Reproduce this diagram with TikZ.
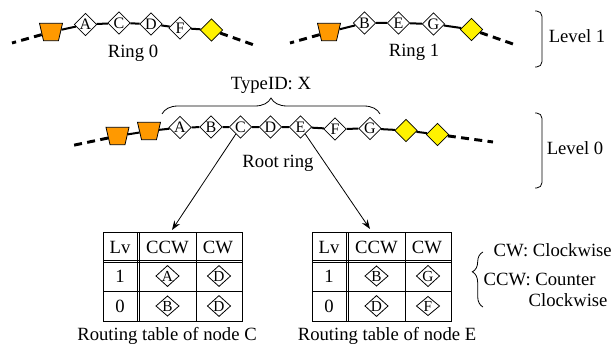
\documentclass[tikz,border=0pt]{standalone}
\usepackage{fontspec}
\setmainfont{Liberation Serif}
\usetikzlibrary{shapes.geometric,decorations.pathreplacing,arrows.meta}
\definecolor{hubOrange}{RGB}{255,153,0}

\begin{document}
\begin{tikzpicture}[x=0.75pt,y=-0.75pt,
  font=\fontsize{14}{16}\selectfont,
  peer/.style={draw,diamond,fill=white,inner sep=0pt,minimum size=17pt,
    line width=0.6pt,font=\fontsize{12}{12}\selectfont},
  gate/.style={peer,fill=yellow},
  hub/.style={draw,trapezium,trapezium left angle=75,trapezium right angle=75,
    shape border rotate=180,trapezium stretches=true,minimum width=17.25pt,
    minimum height=13pt,inner sep=1pt,fill=hubOrange,line width=0.6pt},
  link/.style={line width=1.5pt},
  ringend/.style={line width=2.2pt,dash pattern=on 6pt off 4pt},
  entry/.style={draw,diamond,inner sep=0pt,minimum width=17.5pt,minimum height=14.5pt,
    line width=0.6pt,font=\fontsize{11.5}{11.5}\selectfont},
  tabline/.style={line width=0.6pt},
  bracket/.style={line width=0.6pt,rounded corners=4pt},
  curly/.style={line width=0.6pt,decorate,decoration={brace,#1}}]
  \useasboundingbox (0,0) rectangle (613,353);

  % ring 0
  \node[hub] (h0) at (51,32) {};
  \foreach \n/\x/\y in {A/85.5/24.5, C/119/23, D/151/24, F/180/28}
    \node[peer] (r0\n) at (\x,\y) {\n};
  \node[gate] (g0) at (211.5,30) {};
  \coordinate (r0l) at (12,43);
  \coordinate (r0r) at (254,45);
  \draw[link] (h0) -- (r0A) -- (r0C) -- (r0D) -- (r0F) -- (g0);
  \draw[ringend] (h0) -- (r0l);
  \draw[ringend] (g0) -- (r0r);
  \node (ring0) at (133,53) {Ring 0};

  % ring 1
  \node[hub] (h1) at (329,32) {};
  \foreach \n/\x/\y in {B/364.5/23, E/398.5/23, G/433.5/24}
    \node[peer] (r1\n) at (\x,\y) {\n};
  \node[gate] (g1) at (471.5,29.5) {};
  \coordinate (r1l) at (290,43);
  \coordinate (r1r) at (513,44);
  \draw[link] (h1) -- (r1B) -- (r1E) -- (r1G) -- (g1);
  \draw[ringend] (h1) -- (r1l);
  \draw[ringend] (g1) -- (r1r);
  \node (ring1) at (414,52) {Ring 1};

  % level 1 bracket
  \draw[bracket] (535,11) -| (542,67) -- (535,67);
  \node (lvl1) at (577,36) {Level 1};

  % root ring
  \node[hub] (hr1) at (117.5,136) {};
  \node[hub] (hr2) at (149,131) {};
  \foreach \n/\x/\y in {A/180/127.5, B/211/127, C/240.5/127, D/270.5/127,
                        E/300.5/127, F/335/129, G/370/128.5}
    \node[peer] (r\n) at (\x,\y) {\n};
  \node[gate] (gr1) at (406,130.5) {};
  \node[gate] (gr2) at (437.5,134.5) {};
  \coordinate (rl) at (70,146);
  \coordinate (rr) at (493,142);
  \draw[link] (hr1) -- (hr2) -- (rA) -- (rB) -- (rC) -- (rD) -- (rE) -- (rF)
    -- (rG) -- (gr1) -- (gr2);
  \draw[ringend] (hr1) -- (rl);
  \draw[ringend] (gr2) -- (rr);
  \node (rootring) at (278,163) {Root ring};

  % type id brace
  \draw[curly={amplitude=12pt}] (162,114) -- (380,114);
  \node (typeid) at (271,85) {TypeID: X};

  % level 0 bracket
  \draw[bracket] (535,113) -| (542,188) -- (535,188);
  \node (lvl0) at (575,148) {Level 0};

  % arrows to the tables
  \coordinate (tC) at (172,230);
  \coordinate (tE) at (370,229);
  \draw[line width=0.6pt,-{Stealth[length=7pt,width=5pt]}] (rC) -- (tC);
  \draw[line width=0.6pt,-{Stealth[length=7pt,width=5pt]}] (rE) -- (tE);

  % routing tables
  \foreach \x/\p/\q/\s/\t/\who/\cx in {103/A/D/B/D/C/167, 312/B/G/D/F/E/387} {
    \draw[tabline] (\x,232) rectangle (\x+139,321);
    \draw[tabline] (\x+34,232) -- (\x+34,321) (\x+36.5,232) -- (\x+36.5,321);
    \draw[tabline] (\x+93,232) -- (\x+93,321);
    \draw[tabline] (\x,260) -- (\x+139,260) (\x,262.5) -- (\x+139,262.5);
    \draw[tabline] (\x,291) -- (\x+139,291);
    \node (lv\who) at (\x+17,247) {Lv};
    \node (ccw\who) at (\x+64.5,247) {CCW};
    \node (cw\who) at (\x+115,247) {CW};
    \node (one\who) at (\x+17,276) {1};
    \node (zero\who) at (\x+17,306) {0};
    \node[entry] (p\who) at (\x+64.5,276) {\p};
    \node[entry] (q\who) at (\x+116,276) {\q};
    \node[entry] (s\who) at (\x+64.5,306) {\s};
    \node[entry] (t\who) at (\x+116,306) {\t};
    \node (cap\who) at (\cx,336) {Routing table of node \who};
  }

  % legend
  \draw[curly={amplitude=8pt,aspect=0.64}] (483,307) -- (483,252);
  \node[anchor=west] (leg1) at (489,250) {CW: Clockwise};
  \node[anchor=west] (leg2) at (479,279) {CCW: Counter};
  \node[anchor=west] (leg3) at (524,300) {Clockwise};
\end{tikzpicture}
\end{document}
